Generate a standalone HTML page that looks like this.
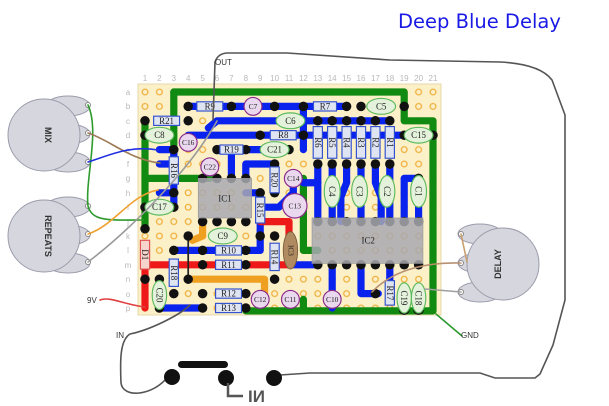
<!DOCTYPE html>
<html><head><meta charset="utf-8"><style>
html,body{margin:0;padding:0;background:#fff;}
svg{display:block}
.rl{font-family:"Liberation Serif",serif;font-size:0.62px;fill:#222;text-anchor:middle;dominant-baseline:central;}
.num{font-family:"Liberation Sans",sans-serif;font-size:8px;fill:#b8b8b8;text-anchor:middle;}
.pot{font-family:"Liberation Sans",sans-serif;font-size:9px;fill:#333;text-anchor:middle;dominant-baseline:central;font-weight:bold}
</style></head><body>
<svg width="609" height="406" viewBox="0 0 609 406" xmlns="http://www.w3.org/2000/svg">
<defs>
<pattern id="holes" patternUnits="userSpaceOnUse" x="-0.5" y="-0.5" width="1" height="1">
<circle cx="0.5" cy="0.5" r="0.2" fill="#fbf0c8" stroke="#f0b040" stroke-width="0.09"/>
</pattern>
</defs>
<text x="398" y="28" font-family="DejaVu Sans,Liberation Sans,sans-serif" font-size="19.5" fill="#1a1ae6">Deep Blue Delay</text>

<!-- column numbers -->
<g class="num">
<text x="145" y="81">1</text><text x="159.4" y="81">2</text><text x="173.8" y="81">3</text><text x="188.2" y="81">4</text><text x="202.6" y="81">5</text><text x="217" y="81">6</text><text x="231.4" y="81">7</text><text x="245.8" y="81">8</text><text x="260.2" y="81">9</text><text x="274.6" y="81">10</text><text x="289" y="81">11</text><text x="303.4" y="81">12</text><text x="317.8" y="81">13</text><text x="332.2" y="81">14</text><text x="346.6" y="81">15</text><text x="361" y="81">16</text><text x="375.4" y="81">17</text><text x="389.8" y="81">18</text><text x="404.2" y="81">19</text><text x="418.6" y="81">20</text><text x="433" y="81">21</text>
<text x="128" y="95">a</text><text x="128" y="109">b</text><text x="128" y="124">c</text><text x="128" y="138">d</text><text x="128" y="153">e</text><text x="128" y="167">f</text><text x="128" y="181">g</text><text x="128" y="196">h</text><text x="128" y="210">i</text><text x="128" y="225">j</text><text x="128" y="239">k</text><text x="128" y="253">l</text><text x="128" y="268">m</text><text x="128" y="282">n</text><text x="128" y="297">o</text><text x="128" y="311">p</text>
</g>

<rect x="138" y="84" width="303" height="231" fill="#fbf0c8" stroke="#e6d9a8"/>

<!-- pots -->
<g fill="#d6d6de" stroke="#9c9cac" stroke-width="1">
<ellipse cx="68" cy="106" rx="22" ry="10"/><ellipse cx="68" cy="134" rx="22" ry="10"/><ellipse cx="68" cy="162" rx="22" ry="10"/>
<circle cx="44" cy="135" r="36"/>
<ellipse cx="68" cy="207" rx="22" ry="10"/><ellipse cx="68" cy="235" rx="22" ry="10"/><ellipse cx="68" cy="263" rx="22" ry="10"/>
<circle cx="44" cy="236" r="36"/>
<ellipse cx="480" cy="234" rx="22" ry="10"/><ellipse cx="480" cy="263" rx="22" ry="10"/><ellipse cx="480" cy="292" rx="22" ry="10"/>
<circle cx="503" cy="264" r="36"/>
</g>
<g fill="#fff" stroke="#888" stroke-width="1">
<circle cx="88" cy="105" r="2.5"/><circle cx="88" cy="133" r="2.5"/><circle cx="88" cy="162" r="2.5"/>
<circle cx="88" cy="206" r="2.5"/><circle cx="88" cy="234" r="2.5"/><circle cx="88" cy="262" r="2.5"/>
<circle cx="461" cy="234" r="2.5"/><circle cx="461" cy="263" r="2.5"/><circle cx="461" cy="292" r="2.5"/>
</g>
<text class="pot" transform="translate(48,135) rotate(90)">MIX</text>
<text class="pot" transform="translate(48,236) rotate(90)">REPEATS</text>
<text class="pot" transform="translate(498,264) rotate(-90)">DELAY</text>

<!-- grid board -->
<g transform="translate(145,92) scale(14.4)">
<rect x="-0.5" y="-0.5" width="21" height="16" fill="url(#holes)"/>
<g fill="none" stroke-linecap="round" stroke-linejoin="round">
<!-- green -->
<g stroke="#118a11" stroke-width="0.5">
<path d="M2,0 H18 V2 H20 V15.2 H7"/>
<path d="M2,0 V6 M0,6 H4.5 M0,2 V9.3 M11,6 V11 H12 M11,14.4 V15.2"/>
</g>
<!-- blue -->
<g stroke="#0a22ee" stroke-width="0.5">
<path d="M3,1 H14 M11,1 V4 M5,2 H17 M4.4,2.5 L5,2 M3,3 H18"/>
<path d="M2,4 V8 M1,4 H2 M1,5 H2 M1,7 H2"/>
<path d="M5,4 H10 M6,4 V6 M7,6 V5 H9 V7"/>
<path d="M7,7 H8 V11 M2,11 H8 M8,8 H9.3 L10.3,7 V6"/>
<path d="M10.3,12 H12 M1,15 H4 M11,6.3 H12"/>
<path d="M12,5 V9 M13,5 V9 M14,5 V6.3 L13.6,7.3 V9 M15,5 V9 M16,5 V6.3 L16.4,7.3 V9 M17,5 V9 M18,9 V6 H19 V9"/>
<path d="M13,12 V15 M15,12 V14 H16.2 M17,12 V13"/>
</g>
<!-- red -->
<g stroke="#ee1a1a" stroke-width="0.5">
<path d="M0,12 V15 M0,12 H10 M8,9 H10 V10"/>
</g>
<!-- orange -->
<g stroke="#f0a020" stroke-width="0.5">
<path d="M4,9 V10 L3.3,10.3 M3,13 H8.3 V14"/>
</g>
<path d="M3,10 V13" stroke="#222" stroke-width="0.12"/>
</g>

<!-- ICs -->
<g fill="#111">
<circle cx="4" cy="6" r="0.33"/><circle cx="5" cy="6" r="0.33"/><circle cx="6" cy="6" r="0.33"/><circle cx="7" cy="6" r="0.33"/>
<circle cx="4" cy="9" r="0.33"/><circle cx="5" cy="9" r="0.33"/><circle cx="6" cy="9" r="0.33"/><circle cx="7" cy="9" r="0.33"/>
<circle cx="12" cy="9" r="0.33"/><circle cx="13" cy="9" r="0.33"/><circle cx="14" cy="9" r="0.33"/><circle cx="15" cy="9" r="0.33"/><circle cx="16" cy="9" r="0.33"/><circle cx="17" cy="9" r="0.33"/><circle cx="18" cy="9" r="0.33"/><circle cx="19" cy="9" r="0.33"/>
<circle cx="12" cy="12" r="0.33"/><circle cx="13" cy="12" r="0.33"/><circle cx="14" cy="12" r="0.33"/><circle cx="15" cy="12" r="0.33"/><circle cx="16" cy="12" r="0.33"/><circle cx="17" cy="12" r="0.33"/><circle cx="18" cy="12" r="0.33"/><circle cx="19" cy="12" r="0.33"/>
</g>
<rect x="3.7" y="6" width="3.7" height="2.75" fill="#a8a8b0" fill-opacity="0.85" stroke="#999" stroke-width="0.05"/>
<text class="rl" x="5.55" y="7.4">IC1</text>
<rect x="11.6" y="8.75" width="7.7" height="3.15" fill="#a8a8b0" fill-opacity="0.85" stroke="#999" stroke-width="0.05"/>
<text class="rl" x="15.5" y="10.3">IC2</text>
<ellipse cx="10.1" cy="11" rx="0.5" ry="1.3" fill="#b08a60" stroke="#7a5a3a" stroke-width="0.06"/>
<text class="rl" transform="translate(10.1,11) rotate(90)" style="font-size:0.5px">IC3</text>

<!-- black holes -->
<g fill="#111">
<circle cx="3" cy="1" r="0.33"/><circle cx="6" cy="1" r="0.33"/><circle cx="9" cy="1" r="0.33"/><circle cx="11" cy="1" r="0.33"/><circle cx="14" cy="1" r="0.33"/><circle cx="15" cy="1" r="0.33"/><circle cx="18" cy="1" r="0.33"/>
<circle cx="0" cy="2" r="0.33"/><circle cx="3" cy="2" r="0.33"/><circle cx="12" cy="2" r="0.33"/><circle cx="13" cy="2" r="0.33"/><circle cx="14" cy="2" r="0.33"/><circle cx="15" cy="2" r="0.33"/><circle cx="16" cy="2" r="0.33"/><circle cx="17" cy="2" r="0.33"/>
<circle cx="0" cy="3" r="0.33"/><circle cx="8" cy="3" r="0.33"/><circle cx="11" cy="3" r="0.33"/><circle cx="18" cy="3" r="0.33"/><circle cx="20" cy="3" r="0.33"/>
<circle cx="2" cy="4" r="0.33"/><circle cx="5" cy="4" r="0.33"/><circle cx="7" cy="4" r="0.33"/><circle cx="10" cy="4" r="0.33"/>
<circle cx="9" cy="5" r="0.33"/><circle cx="12" cy="5" r="0.33"/><circle cx="13" cy="5" r="0.33"/><circle cx="14" cy="5" r="0.33"/><circle cx="15" cy="5" r="0.33"/><circle cx="16" cy="5" r="0.33"/><circle cx="17" cy="5" r="0.33"/>
<circle cx="9" cy="7" r="0.33"/><circle cx="2" cy="7" r="0.33"/><circle cx="8" cy="7" r="0.33"/><circle cx="19" cy="6" r="0.33"/>
<circle cx="0" cy="8" r="0.33"/><circle cx="2" cy="8" r="0.33"/>
<circle cx="0" cy="9.5" r="0.33"/><circle cx="3" cy="10" r="0.33"/><circle cx="8" cy="10" r="0.33"/><circle cx="9" cy="10" r="0.33"/>
<circle cx="2" cy="11" r="0.33"/><circle cx="4" cy="11" r="0.33"/><circle cx="7" cy="11" r="0.33"/>
<circle cx="4" cy="12" r="0.33"/><circle cx="7" cy="12" r="0.33"/>
<circle cx="0" cy="13" r="0.33"/><circle cx="3" cy="13" r="0.33"/><circle cx="9" cy="13" r="0.33"/><circle cx="1" cy="13" r="0.33"/>
<circle cx="2" cy="14" r="0.33"/><circle cx="4" cy="14" r="0.33"/><circle cx="7" cy="14" r="0.33"/><circle cx="16" cy="14" r="0.33"/>
<circle cx="1" cy="15" r="0.33"/><circle cx="4" cy="15" r="0.33"/><circle cx="7" cy="15" r="0.33"/><circle cx="18" cy="15.1" r="0.38"/><circle cx="19" cy="15.1" r="0.38"/>
</g>

<!-- resistors -->
<g fill="#dfe4f2" stroke="#3050d0" stroke-width="0.08">
<rect x="3.6" y="0.68" width="1.8" height="0.64"/>
<rect x="0.6" y="1.68" width="1.8" height="0.64"/>
<rect x="8.7" y="2.68" width="1.8" height="0.64"/>
<rect x="5.2" y="3.68" width="1.6" height="0.64"/>
<rect x="11.7" y="0.68" width="1.6" height="0.64"/>
<rect x="4.9" y="10.68" width="1.8" height="0.64"/>
<rect x="4.9" y="11.68" width="1.8" height="0.64"/>
<rect x="4.9" y="13.68" width="1.8" height="0.64"/>
<rect x="4.9" y="14.68" width="1.8" height="0.64"/>
<rect x="1.68" y="4.5" width="0.64" height="1.9"/>
<rect x="8.68" y="5.2" width="0.64" height="1.8"/>
<rect x="7.68" y="7.3" width="0.64" height="1.8"/>
<rect x="8.68" y="10.5" width="0.64" height="1.9"/>
<rect x="1.68" y="11.6" width="0.64" height="1.9"/>
<rect x="16.68" y="13.1" width="0.64" height="1.7"/>
<rect x="11.68" y="2.4" width="0.64" height="2.2"/><rect x="12.68" y="2.4" width="0.64" height="2.2"/><rect x="13.68" y="2.4" width="0.64" height="2.2"/><rect x="14.68" y="2.4" width="0.64" height="2.2"/><rect x="15.68" y="2.4" width="0.64" height="2.2"/><rect x="16.68" y="2.4" width="0.64" height="2.2"/>
</g>
<rect x="-0.32" y="10.3" width="0.64" height="2" fill="#f6d4cc" stroke="#e05050" stroke-width="0.08"/>
<g class="rl">
<text x="4.5" y="1">R9</text><text x="1.5" y="2">R21</text><text x="9.6" y="3">R8</text><text x="6" y="4">R19</text><text x="12.5" y="1">R7</text>
<text x="5.8" y="11">R10</text><text x="5.8" y="12">R11</text><text x="5.8" y="14">R12</text><text x="5.8" y="15">R13</text>
<text transform="translate(2,5.45) rotate(90)">R16</text><text transform="translate(9,6.1) rotate(90)">R20</text><text transform="translate(8,8.2) rotate(90)">R15</text>
<text transform="translate(9,11.45) rotate(90)">R14</text><text transform="translate(2,12.55) rotate(90)">R18</text><text transform="translate(17,13.95) rotate(90)">R17</text>
<text transform="translate(0,11.3) rotate(90)">D1</text>
<text transform="translate(12,3.5) rotate(90)">R6</text><text transform="translate(13,3.5) rotate(90)">R5</text><text transform="translate(14,3.5) rotate(90)">R4</text><text transform="translate(15,3.5) rotate(90)">R3</text><text transform="translate(16,3.5) rotate(90)">R2</text><text transform="translate(17,3.5) rotate(90)">R1</text>
</g>

<!-- green caps -->
<g fill="#e4f2dc" stroke="#5cba5c" stroke-width="0.08">
<ellipse cx="10.1" cy="2" rx="1" ry="0.55"/><ellipse cx="1" cy="3" rx="1" ry="0.55"/><ellipse cx="9" cy="4" rx="1" ry="0.55"/>
<ellipse cx="1" cy="8" rx="1" ry="0.55"/><ellipse cx="5.4" cy="10" rx="1" ry="0.55"/><ellipse cx="16.4" cy="1" rx="1" ry="0.55"/><ellipse cx="19" cy="3" rx="1" ry="0.55"/>
<ellipse cx="1" cy="14.1" rx="0.5" ry="1"/>
<ellipse cx="13" cy="6.9" rx="0.55" ry="1.1"/><ellipse cx="14.9" cy="6.9" rx="0.55" ry="1.1"/><ellipse cx="16.8" cy="6.9" rx="0.55" ry="1.1"/><ellipse cx="19" cy="6.9" rx="0.55" ry="1.1"/>
<ellipse cx="18" cy="14.3" rx="0.5" ry="1.05"/><ellipse cx="19" cy="14.3" rx="0.5" ry="1.05"/>
</g>
<g class="rl">
<text x="10.1" y="2">C6</text><text x="1" y="3">C8</text><text x="9" y="4">C21</text><text x="1" y="8">C17</text><text x="5.4" y="10">C9</text><text x="16.4" y="1">C5</text><text x="19" y="3">C15</text>
<text transform="translate(1,14.1) rotate(90)">C20</text>
<text transform="translate(13,6.9) rotate(90)">C4</text><text transform="translate(14.9,6.9) rotate(90)">C3</text><text transform="translate(16.8,6.9) rotate(90)">C2</text><text transform="translate(19,6.9) rotate(90)">C1</text>
<text transform="translate(18,14.3) rotate(90)">C19</text><text transform="translate(19,14.3) rotate(90)">C18</text>
</g>
<!-- purple caps -->
<g fill="#ead8ee" stroke="#8a2a8a" stroke-width="0.08">
<circle cx="7.5" cy="1" r="0.62"/><circle cx="3" cy="3.5" r="0.62"/><circle cx="4.5" cy="5.2" r="0.62"/>
<circle cx="10.3" cy="6" r="0.62"/><circle cx="10.4" cy="7.9" r="0.85"/>
<circle cx="8" cy="14.4" r="0.62"/><circle cx="10.1" cy="14.4" r="0.62"/><circle cx="13" cy="14.4" r="0.62"/>
</g>
<g class="rl" style="font-size:0.52px">
<text x="7.5" y="1">C7</text><text x="3" y="3.5">C16</text><text x="4.5" y="5.2">C22</text><text x="10.3" y="6">C14</text><text x="10.4" y="7.9">C13</text>
<text x="8" y="14.4">C12</text><text x="10.1" y="14.4">C11</text><text x="13" y="14.4">C10</text>
</g>
</g>

<!-- wires -->
<g fill="none" stroke-width="1.6" stroke-linecap="round">
<path d="M88,105 C100,130 85,180 88,206 C92,222 110,220 143,220" stroke="#2e9a2e"/>
<path d="M88,133 C110,140 130,160 160,163" stroke="#9c7a55"/>
<path d="M88,162 C110,155 130,145 158,150" stroke="#2030e0"/>
<path d="M88,234 C115,225 130,195 158,190" stroke="#f0a030"/>
<path d="M88,262 C130,230 190,170 217,121" stroke="#9a9a9a"/>
<path d="M461,234 L467,262" stroke="#c8a070"/>
<path d="M461,263 C430,262 395,268 372,292" stroke="#b89070"/>
<path d="M461,292 L425,289" stroke="#a0a0a0"/>
<path d="M100,300 C110,296 125,305 145,307" stroke="#e04040"/>
<path d="M436,314 L462,336" stroke="#2e9a2e"/>
<path d="M213,120 L215,62 Q218,53 228,53 L287,53 L390,60 L500,62 Q540,64 552,80 L565,115 L565,300 L553,345 L540,374 L535,378 L495,378 L480,373 L310,373 L280,375" stroke="#555"/>
<path d="M190,305 C180,315 150,330 130,334 C120,340 120,360 121,383 C123,398 150,396 165,380 L172,377" stroke="#555"/>
</g>
<rect x="178" y="361" width="50" height="7" rx="3.5" fill="#111"/>
<circle cx="172" cy="377" r="8" fill="#111"/><circle cx="226" cy="378" r="8" fill="#111"/><circle cx="274" cy="378" r="8" fill="#111"/>
<path d="M228,383 V396 H243" fill="none" stroke="#555" stroke-width="2.5"/>
<text x="248" y="402" font-family="Liberation Sans,sans-serif" font-size="17" font-weight="bold" fill="#555">IИ</text>
<g font-family="Liberation Sans,sans-serif" font-size="8" fill="#333">
<text x="215" y="65">OUT</text>
<text x="116" y="338">IN</text>
<text x="87" y="303">9V</text>
<text x="461" y="338">GND</text>
</g>
</svg>
</body></html>
